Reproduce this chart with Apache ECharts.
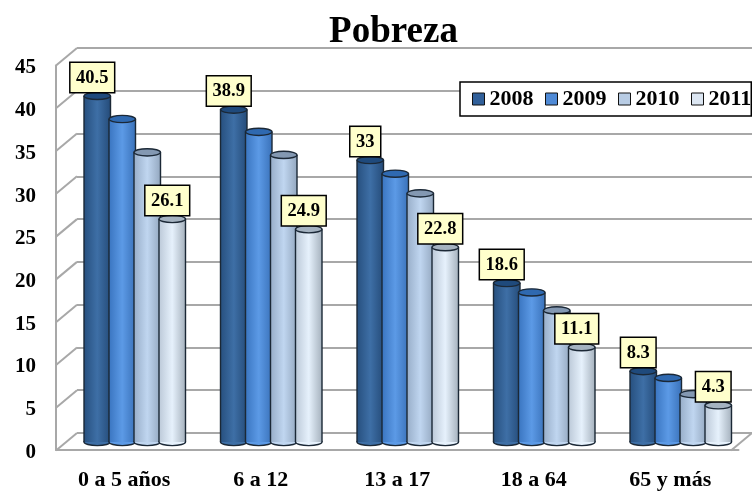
<!DOCTYPE html>
<html><head><meta charset="utf-8">
<style>html,body{margin:0;padding:0;background:#fff}#c{width:752px;height:491px}</style>
<script src="https://cdn.jsdelivr.net/npm/echarts@6/dist/echarts.min.js"></script>
</head><body><div id="c"></div>
<script>
const categories = ['0 a 5 años','6 a 12','13 a 17','18 a 64','65 y más'];
const years = ['2008','2009','2010','2011'];
const v2008 = [40.5,38.9,33,18.6,8.3];
const v2009 = [37.8,36.3,31.4,17.5,7.5];
const v2010 = [33.9,33.6,29.1,15.4,5.6];
const v2011 = [26.1,24.9,22.8,11.1,4.3];
const yTicks = [0,5,10,15,20,25,30,35,40,45];
const values = [v2008,v2009,v2010,v2011];
const labelled = [true,false,false,true];

const FONT = '"Liberation Serif","Times New Roman",serif';
const GRAY = '#a8a8a8';
const EDGE = '#1b2836';
const legendColors = ['#31609a','#4f8ad6','#b8cce4','#dce6f2'];
const styles = [
  {l:'#27507f',m:'#3e6fa6',r:'#254c7a',top:'#1f4a7c'},
  {l:'#3a75c0',m:'#5c9ae6',r:'#3a72ba',top:'#2f69b0'},
  {l:'#98aec9',m:'#c0d6f0',r:'#94a8c0',top:'#8398b2'},
  {l:'#bcc9d8',m:'#e6f1fc',r:'#a6b2be',top:'#a4b2c0'}
];
const STEP = 25/136.5, WIDTH = 26.5/136.5, RY = 3.6;

function grad(s){
  return new echarts.graphic.LinearGradient(0,0,1,0,[
    {offset:0,color:s.l},{offset:.5,color:s.m},{offset:1,color:s.r}]);
}
function cylinder(i){
  return function(params, api){
    const c = api.coord([api.value(0), api.value(1)]);
    const base = api.coord([api.value(0), 0]);
    const band = api.size([1,0])[0];
    const cx = c[0] + (i-1.5)*STEP*band;
    const w = WIDTH*band, s = styles[i];
    const line = {stroke:EDGE,lineWidth:1.4};
    return {type:'group',children:[
      {type:'ellipse',shape:{cx:cx,cy:base[1],rx:w/2,ry:RY},style:Object.assign({fill:s.m},line)},
      {type:'rect',shape:{x:cx-w/2,y:c[1],width:w,height:base[1]-c[1]},style:{fill:grad(s)}},
      {type:'line',shape:{x1:cx-w/2,y1:c[1],x2:cx-w/2,y2:base[1]},style:line},
      {type:'line',shape:{x1:cx+w/2,y1:c[1],x2:cx+w/2,y2:base[1]},style:line},
      {type:'ellipse',shape:{cx:cx,cy:c[1],rx:w/2,ry:RY},style:Object.assign({fill:s.top},line)}
    ]};
  };
}
function labelItem(i){
  return function(params, api){
    const c = api.coord([api.value(0), api.value(1)]);
    const band = api.size([1,0])[0];
    const cx = c[0] + (i-1.5)*STEP*band - 5;
    return {type:'text',style:{
      text:String(api.value(1)),x:cx,y:c[1]-4,align:'center',verticalAlign:'bottom',
      font:'bold 18.5px '+FONT,fill:'#000',backgroundColor:'#ffffcc',
      borderColor:'#000',borderWidth:1.5,padding:[5,5.5,4,5.5],lineHeight:20
    }};
  };
}
function wallItem(params, api){
  const y = api.coord([0, api.value(0)])[1];
  const x = params.coordSys.x, lineStyle = {stroke:GRAY,lineWidth:2};
  const kids = [{type:'line',shape:{x1:x,y1:y,x2:x-21,y2:y+17.5},style:lineStyle}];
  if (api.value(0) === 0) {
    const r = x + params.coordSys.width;
    kids.push({type:'line',shape:{x1:r,y1:y,x2:r-21,y2:y+17.5},style:lineStyle});
  }
  return {type:'group',children:kids};
}
const dataFor = arr => arr.map((v,k)=>[k,v]);

const series = [{
  type:'custom',name:'wall',xAxisIndex:0,yAxisIndex:0,z:1,clip:false,silent:true,
  data:yTicks.map(t=>[t]),encode:{y:0},renderItem:wallItem
}];
values.forEach((arr,i)=>{
  series.push({type:'custom',name:years[i],xAxisIndex:2,yAxisIndex:2,z:3+i*0.01,clip:false,
    itemStyle:{color:legendColors[i]},data:dataFor(arr),encode:{x:0,y:1},renderItem:cylinder(i)});
});
values.forEach((arr,i)=>{
  if(labelled[i]) series.push({type:'custom',name:'lbl'+i,xAxisIndex:2,yAxisIndex:2,z:6,clip:false,
    data:dataFor(arr),encode:{x:0,y:1},renderItem:labelItem(i)});
});

const hiddenX = i=>({type:'category',gridIndex:i,data:categories,show:false});
const chart = echarts.init(document.getElementById('c'),null,{renderer:'canvas'});
chart.setOption({
  animation:false,backgroundColor:'#fff',
  title:{text:'Pobreza',left:388.5,textAlign:'center',top:9,
    textStyle:{fontFamily:FONT,fontWeight:'bold',fontSize:37,color:'#000'}},
  legend:{data:years,left:460,top:82,width:310,orient:'horizontal',icon:'rect',itemWidth:12,itemHeight:12,itemGap:11.5,
    backgroundColor:'#fff',borderColor:'#000',borderWidth:1.5,padding:[6,0,6,12],z:8,
    itemStyle:{borderColor:'#111',borderWidth:1},
    textStyle:{fontFamily:FONT,fontWeight:'bold',fontSize:22,color:'#000'}},
  tooltip:{show:false},
  grid:[
    {left:77,top:48,width:682.5,height:385},
    {left:56,top:65.5,width:682.5,height:384.5},
    {left:66.5,top:57.5,width:682.5,height:384.5},
    {left:56,top:68,width:682.5,height:384.5}
  ],
  xAxis:[
    hiddenX(0),
    {type:'category',gridIndex:1,data:categories,axisTick:{show:false},
     axisLine:{show:true,lineStyle:{color:GRAY,width:2}},
     axisLabel:{interval:0,margin:19,fontFamily:FONT,fontWeight:'bold',fontSize:22,color:'#000'}},
    hiddenX(2),
    hiddenX(3)
  ],
  yAxis:[
    {type:'value',gridIndex:0,min:0,max:45,interval:5,axisLine:{show:false},axisTick:{show:false},axisLabel:{show:false},
     splitLine:{show:true,lineStyle:{color:GRAY,width:2}}},
    {type:'value',gridIndex:1,min:0,max:45,interval:5,axisTick:{show:false},axisLabel:{show:false},
     axisLine:{show:true,lineStyle:{color:GRAY,width:2}},splitLine:{show:false}},
    {type:'value',gridIndex:2,min:0,max:45,interval:5,show:false,splitLine:{show:false}},
    {type:'value',gridIndex:3,min:0,max:45,interval:5,axisTick:{show:false},axisLine:{show:false},splitLine:{show:false},
     axisLabel:{margin:20,fontFamily:FONT,fontWeight:'bold',fontSize:21,color:'#000'}}
  ],
  series:series
});
</script></body></html>
